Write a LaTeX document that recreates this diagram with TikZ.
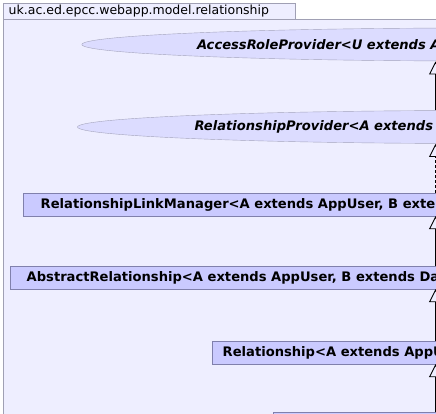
\documentclass[tikz,border=0pt]{standalone}
\usepackage{fontspec}
\setmainfont{DejaVu Sans}
\usetikzlibrary{arrows.meta,shapes.geometric}
\definecolor{pkgfill}{HTML}{EEEEFF}
\definecolor{pkgline}{HTML}{A0A0B4}
\definecolor{clsfill}{HTML}{CACAFF}
\definecolor{clsline}{HTML}{8080AC}
\definecolor{ifcfill}{HTML}{DCDCFF}
\definecolor{ifcline}{HTML}{A4A4BC}

\begin{document}
\begin{tikzpicture}[x=1pt,y=-1pt,font=\fontsize{12.5}{15}\selectfont,
  iface/.style={ellipse,draw=ifcline,fill=ifcfill,inner sep=0pt,minimum height=33pt,
    align=left,font=\fontsize{13.1}{15}\selectfont\bfseries\itshape},
  cls/.style={rectangle,draw=clsline,fill=clsfill,anchor=west,inner ysep=0pt,
    minimum height=23pt,font=\fontsize{13.1}{15}\selectfont\bfseries},
  ext/.style={draw=black,line width=0.9pt,-{Triangle[open,length=13pt,width=13pt,line width=0.9pt]}},
  impl/.style={ext,dash pattern=on 3pt off 2pt}]
\useasboundingbox (0,0) rectangle (436,414);
% PACKAGE FRAME AND TAB
\filldraw [fill=pkgfill,draw=pkgline,line width=0.9pt] (3,19.3) rectangle (450,430);
\filldraw [fill=pkgfill,draw=pkgline,line width=0.9pt] (3,3) rectangle (295.5,19.3);
\node [anchor=west,inner sep=0pt] (pkg) at (8.5,11.5) {uk.ac.ed.epcc.webapp.model.relationship};
% INTERFACES
\node [iface,text width=556pt] (arp) at (475,44.5) {AccessRoleProvider<U extends A};
\node [iface,text width=565pt] (rp) at (477,127) {RelationshipProvider<A extends A};
% CLASSES
\node [cls,inner xsep=17.5pt] (rlm) at (23,204.5) {RelationshipLinkManager<A extends AppUser, B exte};
\node [cls,inner xsep=16.5pt] (arel) at (10,277.5) {AbstractRelationship<A extends AppUser, B extends Da};
\node [cls,inner xsep=10.5pt] (rel) at (212,352.5) {Relationship<A extends AppU};
\node [cls,minimum width=200pt] (sub) at (273,423.5) {};
% HIERARCHY LINES
\coordinate (axis) at (435.5,0);
\draw [ext] (rp.north -| axis) -- ([yshift=-0.3pt]arp.south -| axis);
\draw [impl] (rlm.north -| axis) -- ([yshift=-0.3pt]rp.south -| axis);
\draw [ext] (arel.north -| axis) -- (rlm.south -| axis);
\draw [ext] (rel.north -| axis) -- (arel.south -| axis);
\draw [ext] (sub.north -| axis) -- (rel.south -| axis);
\end{tikzpicture}
\end{document}
